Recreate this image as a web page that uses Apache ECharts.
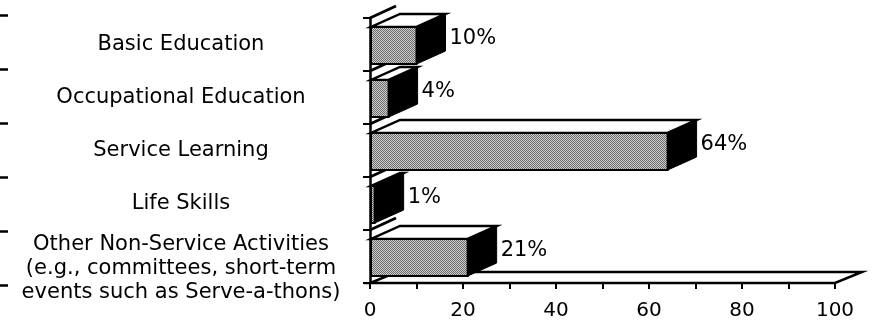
<!DOCTYPE html>
<html>
<head>
<meta charset="utf-8">
<script src="https://cdn.jsdelivr.net/npm/echarts@6/dist/echarts.min.js"></script>
<style>
  html, body { margin: 0; padding: 0; background: #fff; }
  #chart { width: 872px; height: 321px; }
</style>
</head>
<body>
<div id="chart"></div>
<script>
// Activity categories, top to bottom
const categories = [
  'Basic Education',
  'Occupational Education',
  'Service Learning',
  'Life Skills',
  'Other Non-Service Activities\n(e.g., committees, short-term\nevents such as Serve-a-thons)'
];
// Share of time (%) for each category
const shares = [10, 4, 64, 1, 21];
// Percentage axis
const axisMin = 0;
const axisMax = 100;
const tickStep = 10;
const labelStep = 20;

const FONT = 'DejaVu Sans';
// depth offsets used to fake the 3D extrusion
const BAR_DX = 29, BAR_DY = -13;
const FLOOR_DX = 27, FLOOR_DY = -11;

// fine two-tone texture for the bar fronts (halftone look)
function makeDots() {
  const c = document.createElement('canvas');
  c.width = 2; c.height = 2;
  const g = c.getContext('2d');
  g.fillStyle = '#cfcfcf'; g.fillRect(0, 0, 2, 2);
  g.fillStyle = '#6a6a6a'; g.fillRect(0, 0, 1, 1); g.fillRect(1, 1, 1, 1);
  return c;
}
const dots = { image: makeDots(), repeat: 'repeat' };

// floor slab under the bars and the depth lines on the left wall
function renderFrame(params, api) {
  const cs = params.coordSys;
  const xL = cs.x, xR = cs.x + cs.width, yB = cs.y + cs.height;
  const band = cs.height / categories.length;
  const children = [{
    type: 'polygon',
    shape: { points: [[xL, yB], [xR, yB], [xR + FLOOR_DX, yB + FLOOR_DY], [xL + FLOOR_DX, yB + FLOOR_DY]] },
    style: { fill: '#fff', stroke: '#000', lineWidth: 2.5, lineJoin: 'miter' }
  }];
  for (let k = 0; k < categories.length; k++) {
    const y = cs.y + k * band;
    children.push({
      type: 'line',
      shape: { x1: xL, y1: y, x2: xL + BAR_DX - 3, y2: y + BAR_DY + 1 },
      style: { stroke: '#000', lineWidth: 3 }
    });
  }
  return { type: 'group', children };
}

// one extruded bar: top face, front face, dark side face and value label
function renderBar(params, api) {
  const v = api.value(0);
  const i = api.value(1);
  const start = api.coord([0, i]);
  const end = api.coord([v, i]);
  const band = api.size([0, 1])[1];
  const h = band * 0.7;
  const x0 = start[0] + 1;
  const x1 = end[0];
  const yT = start[1] - h / 2 + 1;
  const yB = yT + h;
  return {
    type: 'group',
    children: [
      {
        type: 'polygon',
        shape: { points: [[x0, yT], [x1, yT], [x1 + BAR_DX, yT + BAR_DY], [x0 + BAR_DX, yT + BAR_DY]] },
        style: { fill: '#fff', stroke: '#000', lineWidth: 2.5 }
      },
      {
        type: 'rect',
        shape: { x: x0, y: yT, width: Math.max(x1 - x0, 0), height: h },
        style: { fill: dots, stroke: '#000', lineWidth: 2 }
      },
      {
        type: 'polygon',
        shape: { points: [[x1, yT], [x1 + BAR_DX, yT + BAR_DY], [x1 + BAR_DX, yB + BAR_DY], [x1, yB]] },
        style: { fill: '#000', stroke: '#000', lineWidth: 1 }
      },
      {
        type: 'text',
        style: {
          x: x1 + BAR_DX + 4,
          y: start[1] - 6,
          text: v + '%',
          fontFamily: FONT,
          fontSize: 21,
          fill: '#000',
          align: 'left',
          verticalAlign: 'middle'
        }
      }
    ]
  };
}

const chart = echarts.init(document.getElementById('chart'), null, { renderer: 'canvas' });
chart.setOption({
  animation: false,
  backgroundColor: '#fff',
  grid: [
    { left: 370, right: 37, top: 18, bottom: 38 },
    { left: 8, width: 1, top: 15, bottom: 36 }
  ],
  xAxis: [
    {
      type: 'value',
      gridIndex: 0,
      min: axisMin,
      max: axisMax,
      interval: tickStep,
      splitLine: { show: false },
      axisLine: { show: true, lineStyle: { color: '#000', width: 2 } },
      axisTick: { show: true, length: 6, lineStyle: { color: '#000', width: 2 } },
      axisLabel: {
        margin: 18,
        fontFamily: FONT,
        fontSize: 20,
        color: '#000',
        showMinLabel: true,
        showMaxLabel: true,
        hideOverlap: false,
        formatter: v => (v % labelStep === 0 ? String(v) : '')
      }
    },
    { type: 'value', gridIndex: 1, show: false }
  ],
  yAxis: [
    {
      type: 'category',
      gridIndex: 0,
      data: categories,
      inverse: true,
      axisLine: { show: true, lineStyle: { color: '#000', width: 2.5 } },
      axisTick: { show: true, length: 7, lineStyle: { color: '#000', width: 2 } },
      axisLabel: {
        margin: 189,
        align: 'center',
        interval: 0,
        showMinLabel: true,
        showMaxLabel: true,
        hideOverlap: false,
        fontFamily: FONT,
        fontSize: 21,
        lineHeight: 24,
        color: '#000',
        // the three-line label sits a little lower in its row
        formatter: s => (s.indexOf('\n') >= 0 ? '\n' + s : s)
      }
    },
    {
      type: 'category',
      gridIndex: 1,
      data: categories,
      inverse: true,
      axisLine: { show: false },
      axisTick: { show: true, length: 8, lineStyle: { color: '#000', width: 2.5 } },
      axisLabel: { show: false }
    }
  ],
  series: [
    {
      type: 'custom',
      xAxisIndex: 0,
      yAxisIndex: 0,
      renderItem: renderFrame,
      data: [[0, 0]],
      z: 1,
      silent: true
    },
    {
      type: 'custom',
      xAxisIndex: 0,
      yAxisIndex: 0,
      renderItem: renderBar,
      data: shares.map((v, i) => [v, i]),
      z: 3
    }
  ]
});
</script>
</body>
</html>
